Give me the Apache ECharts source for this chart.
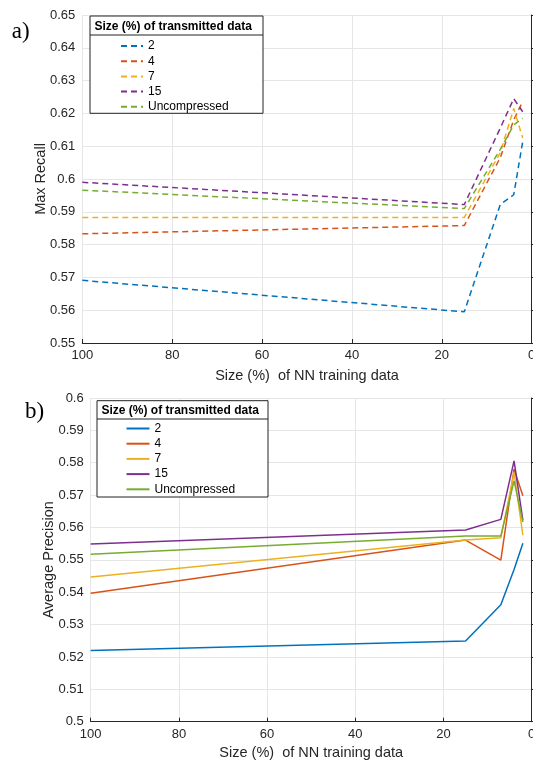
<!DOCTYPE html>
<html>
<head>
<meta charset="utf-8">
<script src="https://cdn.jsdelivr.net/npm/echarts@6/dist/echarts.min.js"></script>
<style>
  html, body { margin: 0; padding: 0; background: #fff; }
  #chart { width: 533px; height: 760px; }
</style>
</head>
<body>
<div id="chart"></div>
<script>
// x: size (%) of NN training data
var trainSizes = [100, 15, 7, 4, 2];
// legend entries: size (%) of transmitted data
var sizeNames = ['2', '4', '7', '15', 'Uncompressed'];
var colors = ['#0072BD', '#D95319', '#EDB120', '#7E2F8E', '#77AC30'];

// a) Max Recall
var recall2 = [0.5691, 0.5595, 0.5922, 0.5952, 0.6114];
var recall4 = [0.5833, 0.5858, 0.6065, 0.6180, 0.6237];
var recall7 = [0.5883, 0.5883, 0.6080, 0.6215, 0.6125];
var recall15 = [0.5990, 0.5922, 0.6155, 0.6245, 0.6205];
var recallUnc = [0.5966, 0.5910, 0.6090, 0.6165, 0.6185];

// b) Average Precision
var prec2 = [0.5220, 0.5249, 0.5361, 0.5470, 0.5551];
var prec4 = [0.5397, 0.5561, 0.5499, 0.5780, 0.5698];
var prec7 = [0.5447, 0.5561, 0.5568, 0.5770, 0.5576];
var prec15 = [0.5549, 0.5592, 0.5625, 0.5806, 0.5622];
var precUnc = [0.5517, 0.5574, 0.5574, 0.5744, 0.5617];

var recallSets = [recall2, recall4, recall7, recall15, recallUnc];
var precSets = [prec2, prec4, prec7, prec15, precUnc];

var font = '"Liberation Sans", Arial, Helvetica, sans-serif';
var axisColor = '#262626';
var gridColor = '#e6e6e6';

function pairs(ys) {
  return trainSizes.map(function (x, i) { return [x, ys[i]]; });
}

function makeX(gridIndex, gap) {
  return {
    type: 'value', gridIndex: gridIndex, inverse: true,
    min: 0, max: 100, interval: 20,
    name: 'Size (%)  of NN training data',
    nameLocation: 'middle', nameGap: gap,
    nameTextStyle: { fontSize: 14.5, color: axisColor, fontFamily: font },
    axisLine: { show: true, lineStyle: { color: axisColor, width: 1 } },
    axisTick: { show: true, inside: true, length: 4, lineStyle: { color: axisColor } },
    axisLabel: { fontSize: 13, color: axisColor, margin: 6, fontFamily: font },
    splitLine: { show: true, lineStyle: { color: gridColor, width: 1 } }
  };
}

function makeY(gridIndex, min, max, name) {
  return {
    type: 'value', gridIndex: gridIndex,
    min: min, max: max, interval: 0.01,
    name: name, nameLocation: 'middle', nameGap: 34, nameMoveOverlap: false,
    nameTextStyle: { fontSize: 14.5, color: axisColor, fontFamily: font },
    axisLine: { show: true, lineStyle: { color: axisColor, width: 1 } },
    axisTick: { show: true, inside: true, length: 4, lineStyle: { color: axisColor } },
    axisLabel: {
      fontSize: 13, color: axisColor, margin: 7, fontFamily: font,
      formatter: function (v) { return String(+v.toFixed(2)); }
    },
    splitLine: { show: true, lineStyle: { color: gridColor, width: 1 } }
  };
}

var series = [];
sizeNames.forEach(function (n, i) {
  series.push({
    name: 'a|' + n, type: 'line', xAxisIndex: 0, yAxisIndex: 0,
    data: pairs(recallSets[i]), symbol: 'none', smooth: false,
    lineStyle: { color: colors[i], width: 1.5, type: [6, 4] },
    itemStyle: { color: colors[i] }
  });
});
sizeNames.forEach(function (n, i) {
  series.push({
    name: 'b|' + n, type: 'line', xAxisIndex: 1, yAxisIndex: 1,
    data: pairs(precSets[i]), symbol: 'none', smooth: false,
    lineStyle: { color: colors[i], width: 1.5 },
    itemStyle: { color: colors[i] }
  });
});

function makeLegend(prefix, left, top, w) {
  return {
    orient: 'vertical', left: left, top: top, padding: 0,
    itemWidth: w, itemHeight: 14, itemGap: 3.2, z: 110,
    selectedMode: false,
    data: sizeNames.map(function (n) { return prefix + n; }),
    formatter: function (name) { return name.split('|')[1]; },
    // hide the marker drawn in the middle of each legend line
    itemStyle: { color: 'transparent', borderColor: 'transparent', borderWidth: 0, opacity: 0 },
    textStyle: { fontSize: 12, color: '#000', fontFamily: font }
  };
}

function legendBox(x, y, w, h, sepY, titleY) {
  return [
    { type: 'rect', z: 100, shape: { x: x, y: y, width: w, height: h },
      style: { fill: '#fff', stroke: '#222', lineWidth: 1 } },
    { type: 'line', z: 101, shape: { x1: x, y1: sepY, x2: x + w, y2: sepY },
      style: { stroke: '#222', lineWidth: 1 } },
    { type: 'text', z: 101, style: { x: x + 4.5, y: titleY, text: 'Size (%) of transmitted data',
      font: 'bold 12px ' + font, fill: '#000', verticalAlign: 'middle' } }
  ];
}

var option = {
  animation: false,
  backgroundColor: '#fff',
  textStyle: { fontFamily: font },
  grid: [
    { left: 82.3, top: 15, width: 449.4, height: 328, outerBoundsMode: 'none' },
    { left: 90.7, top: 398, width: 441, height: 323.7, outerBoundsMode: 'none' }
  ],
  xAxis: [makeX(0, 25), makeX(1, 24)],
  yAxis: [makeY(0, 0.55, 0.65, 'Max Recall'), makeY(1, 0.5, 0.6, 'Average Precision')],
  legend: [makeLegend('a|', 120, 40, 22), makeLegend('b|', 125.5, 422.5, 23)],
  graphic: [].concat(
    legendBox(90, 16, 173, 97.3, 35, 26.7),
    legendBox(97, 400.7, 171, 96.3, 419, 410.7),
    [
      { type: 'text', z: 101, style: { x: 11.7, y: 31.7, text: 'a)',
        font: '23px "Liberation Serif", "Times New Roman", serif', fill: '#000', verticalAlign: 'middle' } },
      { type: 'text', z: 101, style: { x: 25, y: 411.7, text: 'b)',
        font: '23px "Liberation Serif", "Times New Roman", serif', fill: '#000', verticalAlign: 'middle' } }
    ]
  ),
  series: series
};

var chart = echarts.init(document.getElementById('chart'), null, { renderer: 'canvas' });
chart.setOption(option);
</script>
</body>
</html>
